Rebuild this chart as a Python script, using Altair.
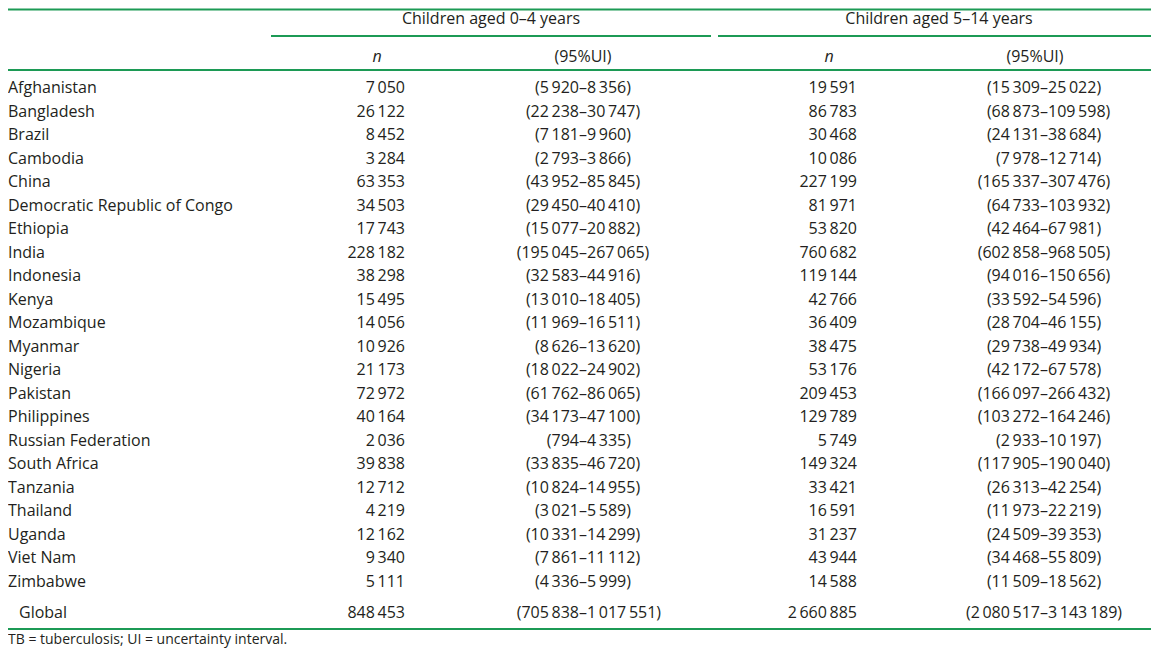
import altair as alt
import pandas as pd

countries = ["Afghanistan", "Bangladesh", "Brazil", "Cambodia", "China",
             "Democratic Republic of Congo", "Ethiopia", "India", "Indonesia",
             "Kenya", "Mozambique", "Myanmar", "Nigeria", "Pakistan",
             "Philippines", "Russian Federation", "South Africa", "Tanzania",
             "Thailand", "Uganda", "Viet Nam", "Zimbabwe"]
n_0_4 = [7050, 26122, 8452, 3284, 63353, 34503, 17743, 228182, 38298, 15495,
         14056, 10926, 21173, 72972, 40164, 2036, 39838, 12712, 4219, 12162,
         9340, 5111]
lo_0_4 = [5920, 22238, 7181, 2793, 43952, 29450, 15077, 195045, 32583, 13010,
          11969, 8626, 18022, 61762, 34173, 794, 33835, 10824, 3021, 10331,
          7861, 4336]
hi_0_4 = [8356, 30747, 9960, 3866, 85845, 40410, 20882, 267065, 44916, 18405,
          16511, 13620, 24902, 86065, 47100, 4335, 46720, 14955, 5589, 14299,
          11112, 5999]
n_5_14 = [19591, 86783, 30468, 10086, 227199, 81971, 53820, 760682, 119144,
          42766, 36409, 38475, 53176, 209453, 129789, 5749, 149324, 33421,
          16591, 31237, 43944, 14588]
lo_5_14 = [15309, 68873, 24131, 7978, 165337, 64733, 42464, 602858, 94016,
           33592, 28704, 29738, 42172, 166097, 103272, 2933, 117905, 26313,
           11973, 24509, 34468, 11509]
hi_5_14 = [25022, 109598, 38684, 12714, 307476, 103932, 67981, 968505, 150656,
           54596, 46155, 49934, 67578, 266432, 164246, 10197, 190040, 42254,
           22219, 39353, 55809, 18562]
global_label = "Global"
global_0_4 = [848453, 705838, 1017551]
global_5_14 = [2660885, 2080517, 3143189]

group_titles = ["Children aged 0\u20134 years", "Children aged 5\u201314 years"]
sub_n = "n"
sub_ui = "(95%UI)"
footnote = "TB = tuberculosis; UI = uncertainty interval."

FONT = "Open Sans"
FS = 16
TXT = "#231f20"
GREEN = "#1c9a55"


def fmt(v):
    return f"{v:,}".replace(",", "\u2009")


rows = pd.DataFrame({
    "row": list(range(len(countries))),
    "country": countries,
    "n1": [fmt(v) for v in n_0_4],
    "lo1": ["(" + fmt(v) for v in lo_0_4],
    "hi1": ["\u2013" + fmt(v) + ")" for v in hi_0_4],
    "n2": [fmt(v) for v in n_5_14],
    "lo2": ["(" + fmt(v) for v in lo_5_14],
    "hi2": ["\u2013" + fmt(v) + ")" for v in hi_5_14],
})
glob = pd.DataFrame({
    "country": [global_label],
    "n1": [fmt(global_0_4[0])],
    "lo1": ["(" + fmt(global_0_4[1])],
    "hi1": ["\u2013" + fmt(global_0_4[2]) + ")"],
    "n2": [fmt(global_5_14[0])],
    "lo2": ["(" + fmt(global_5_14[1])],
    "hi2": ["\u2013" + fmt(global_5_14[2]) + ")"],
})

yscale = alt.Scale(domain=[0, len(countries) - 1], range=[80, 574])
Y = alt.Y("row:Q", scale=yscale, axis=None)

# column anchor positions (chart px) and alignment
cols = [("country", 0, "left"), ("n1", 397, "right"), ("lo1", 571, "right"),
        ("hi1", 571, "left"), ("n2", 849, "right"), ("lo2", 1032, "right"),
        ("hi2", 1032, "left")]

layers = []
base = alt.Chart(rows)
gbase = alt.Chart(glob)
for name, xp, al in cols:
    layers.append(base.mark_text(align=al, baseline="middle", font=FONT,
                                 fontSize=FS, color=TXT)
                  .encode(text=f"{name}:N", x=alt.value(xp), y=Y))
    gx = xp + 11 if name == "country" else xp
    layers.append(gbase.mark_text(align=al, baseline="middle", font=FONT,
                                  fontSize=FS, color=TXT)
                  .encode(text=f"{name}:N", x=alt.value(gx), y=alt.value(605)))

# headers
hdr = pd.DataFrame({"t": group_titles})
layers.append(alt.Chart(hdr.iloc[[0]]).mark_text(align="center", baseline="middle",
              font=FONT, fontSize=FS, color=TXT)
              .encode(text="t:N", x=alt.value(483), y=alt.value(11)))
layers.append(alt.Chart(hdr.iloc[[1]]).mark_text(align="center", baseline="middle",
              font=FONT, fontSize=FS, color=TXT)
              .encode(text="t:N", x=alt.value(931), y=alt.value(11)))

sub = pd.DataFrame({"t": [sub_n, sub_ui]})
for xn, xu in [(369, 575), (821, 1027)]:
    layers.append(alt.Chart(sub.iloc[[0]]).mark_text(align="center", baseline="middle",
                  font=FONT, fontSize=FS, fontStyle="italic", color=TXT)
                  .encode(text="t:N", x=alt.value(xn), y=alt.value(49)))
    layers.append(alt.Chart(sub.iloc[[1]]).mark_text(align="center", baseline="middle",
                  font=FONT, fontSize=FS, color=TXT)
                  .encode(text="t:N", x=alt.value(xu), y=alt.value(49)))

# footnote
layers.append(alt.Chart(pd.DataFrame({"t": [footnote]})).mark_text(
    align="left", baseline="middle", font=FONT, fontSize=14, color=TXT)
    .encode(text="t:N", x=alt.value(0), y=alt.value(632)))

# rules
rule_specs = [(0, 1143, 1.5), (263, 703, 28), (710, 1143, 28), (0, 1143, 62),
              (0, 1143, 621)]
rdf = pd.DataFrame({"k": [0]})
for x1, x2, yy in rule_specs:
    layers.append(alt.Chart(rdf).mark_rule(color=GREEN, strokeWidth=2.2)
                  .encode(x=alt.value(x1), x2=alt.value(x2), y=alt.value(yy)))

chart = alt.layer(*layers).properties(
    width=1143, height=641,
    autosize=alt.AutoSizeParams(type="none"), padding=0,
).configure_view(stroke=None)

chart.save("out.html", embed_options={"renderer": "svg", "actions": False})
